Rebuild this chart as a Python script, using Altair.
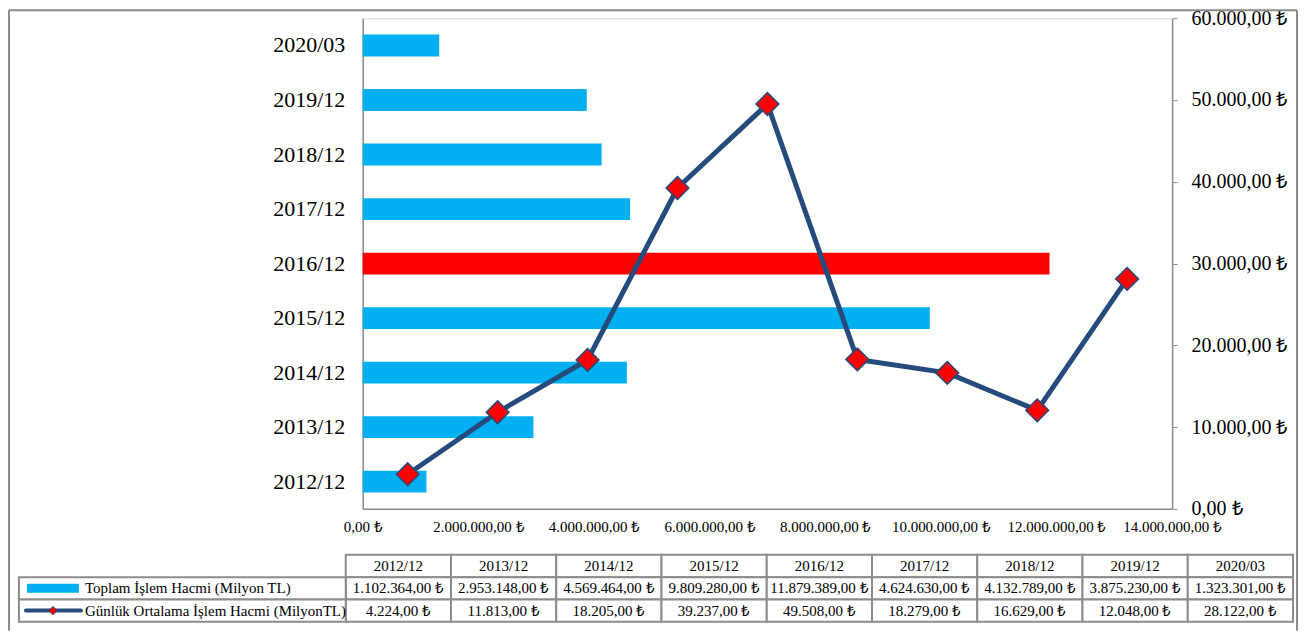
import altair as alt
import pandas as pd

# ---------------- data ----------------
periods = ["2012/12", "2013/12", "2014/12", "2015/12", "2016/12",
           "2017/12", "2018/12", "2019/12", "2020/03"]
total_volume = [1102364, 2953148, 4569464, 9809280, 11879389,
                4624630, 4132789, 3875230, 1323301]
daily_avg = [4224, 11813, 18205, 39237, 49508, 18279, 16629, 12048, 28122]
series_names = ["Toplam İşlem Hacmi (Milyon TL)",
                "Günlük Ortalama İşlem Hacmi (MilyonTL)"]
highlight_period = "2016/12"
x_ticks = [0, 2000000, 4000000, 6000000, 8000000, 10000000, 12000000, 14000000]
y2_ticks = [0, 10000, 20000, 30000, 40000, 50000, 60000]


def tr(v):
    s = f"{v:,.2f}"
    return s.replace(",", "_").replace(".", ",").replace("_", ".") + " ₺"


df = pd.DataFrame({"Period": periods, "Total": total_volume, "Daily": daily_avg})

# table cells (grid units: columns, rows)
cells = []
for c, p in enumerate(periods):
    cells.append({"x0": c, "x1": c + 1, "y0": 0, "y1": 1, "text": p})
    cells.append({"x0": c, "x1": c + 1, "y0": 1, "y1": 2, "text": tr(total_volume[c])})
    cells.append({"x0": c, "x1": c + 1, "y0": 2, "y1": 3, "text": tr(daily_avg[c])})
LEG_COL = -3.105
cells.append({"x0": LEG_COL, "x1": 0, "y0": 1, "y1": 2, "text": ""})
cells.append({"x0": LEG_COL, "x1": 0, "y0": 2, "y1": 3, "text": ""})
cells_df = pd.DataFrame(cells)
cells_df["xm"] = (cells_df.x0 + cells_df.x1) / 2
cells_df["ym"] = (cells_df.y0 + cells_df.y1) / 2

legend_df = pd.DataFrame({"label": series_names, "ym": [1.5, 2.5]})

# ---------------- style ----------------
W, H = 810, 491
FONT = "Liberation Serif"
BLUE = "#00B0F0"
RED = "#FF0000"
NAVY = "#254A7C"
GRAY = "#8C8C8C"

# ---------------- main chart ----------------
bars = alt.Chart(df).mark_bar().encode(
    x=alt.X("Total:Q",
            scale=alt.Scale(domain=[0, 14000000], nice=False),
            axis=alt.Axis(title=None, values=x_ticks, format="$,.2f", grid=False,
                          ticks=False, domainColor=GRAY, domainWidth=1.5,
                          labelFontSize=15, labelPadding=11, labelFont=FONT,
                          labelColor="black", labelFlush=False, labelOverlap=False)),
    y=alt.Y("Period:N", sort=periods[::-1],
            scale=alt.Scale(paddingInner=0.6, paddingOuter=0.3),
            axis=alt.Axis(title=None, ticks=False, domainColor=GRAY, domainWidth=1.5,
                          labelFontSize=22, labelPadding=18, labelFont=FONT,
                          labelColor="black")),
    color=alt.condition(alt.datum.Period == highlight_period,
                        alt.value(RED), alt.value(BLUE)),
)

line_enc = dict(
    x=alt.X("Period:N", sort=periods, scale=alt.Scale(domain=periods), axis=None),
    y=alt.Y("Daily:Q", scale=alt.Scale(domain=[0, 60000], nice=False),
            axis=alt.Axis(orient="right", title=None, values=y2_ticks, format="$,.2f",
                          grid=False, tickSize=5, tickColor=GRAY, domainColor=GRAY,
                          domainWidth=1.5, labelFontSize=20, labelFont=FONT,
                          labelPadding=14, labelColor="black")),
)
line = alt.Chart(df).mark_line(color=NAVY, strokeWidth=5).encode(**line_enc)
points = alt.Chart(df).mark_point(shape="diamond", size=520, filled=True, fill=RED,
                                  stroke=NAVY, strokeWidth=1.5, opacity=1).encode(**line_enc)
line_layer = alt.layer(line, points)

# ---------------- data table ----------------
tx = alt.Scale(domain=[0, 9], range=[-17, 931], nice=False, zero=False)
ty = alt.Scale(domain=[0, 3], range=[537, 604], nice=False, zero=False)

cell_rects = alt.Chart(cells_df).mark_rect(fill="white", stroke=GRAY, strokeWidth=2).encode(
    x=alt.X("x0:Q", scale=tx, axis=None), x2="x1:Q",
    y=alt.Y("y0:Q", scale=ty, axis=None), y2="y1:Q",
)
cell_text = alt.Chart(cells_df).mark_text(font=FONT, fontSize=15, color="black",
                                          baseline="middle", align="center").encode(
    x=alt.X("xm:Q", scale=tx, axis=None),
    y=alt.Y("ym:Q", scale=ty, axis=None),
    text="text:N",
)
leg_bar = alt.Chart(legend_df.iloc[[0]]).mark_rule(color=BLUE, strokeWidth=9, strokeCap="butt").encode(
    x=alt.value(-336), x2=alt.value(-284),
    y=alt.Y("ym:Q", scale=ty, axis=None),
)
leg_line = alt.Chart(legend_df.iloc[[1]]).mark_rule(color=NAVY, strokeWidth=4, strokeCap="round").encode(
    x=alt.value(-337), x2=alt.value(-282),
    y=alt.Y("ym:Q", scale=ty, axis=None),
)
leg_pt = alt.Chart(legend_df.iloc[[1]]).mark_point(shape="diamond", size=70, filled=True, fill=RED,
                                                   stroke=NAVY, strokeWidth=1, opacity=1).encode(
    x=alt.value(-310),
    y=alt.Y("ym:Q", scale=ty, axis=None),
)
leg_text = alt.Chart(legend_df).mark_text(font=FONT, fontSize=15, color="black",
                                          align="left", baseline="middle").encode(
    x=alt.value(-278),
    y=alt.Y("ym:Q", scale=ty, axis=None),
    text="label:N",
)
table = alt.layer(cell_rects, cell_text, leg_bar, leg_line, leg_pt, leg_text)

# ---------------- outer frame ----------------
one = pd.DataFrame({"a": [0]})
frame_left = alt.Chart(one).mark_rule(color=GRAY, strokeWidth=2).encode(
    x=alt.value(-354), y=alt.value(-8), y2=alt.value(613))
frame_right = alt.Chart(one).mark_rule(color=GRAY, strokeWidth=2).encode(
    x=alt.value(935), y=alt.value(-8), y2=alt.value(613))
frame_top = alt.Chart(one).mark_rule(color=GRAY, strokeWidth=2).encode(
    x=alt.value(-354), x2=alt.value(935), y=alt.value(-8))
frame = alt.layer(frame_left, frame_right, frame_top)

chart = (
    alt.layer(bars, line_layer, table, frame)
    .resolve_scale(x="independent", y="independent")
    .properties(width=W, height=H, padding=0)
    .configure_view(stroke=None)
    .configure(locale=alt.Locale(number=alt.NumberLocale(
        decimal=",", thousands=".", grouping=[3], currency=["", " ₺"])))
)

chart.save("out.html", embed_options={"renderer": "svg", "actions": False})
